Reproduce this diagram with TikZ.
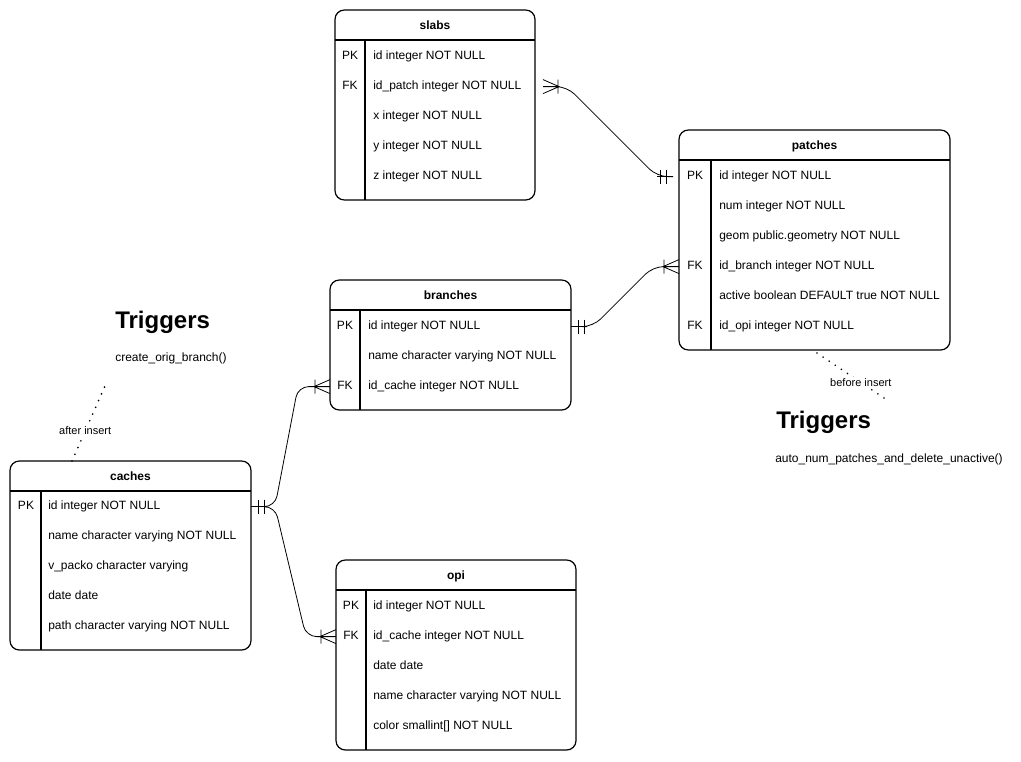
\documentclass[tikz,border=0pt]{standalone}
\usepackage{fontspec}
\setmainfont{Liberation Sans}
\usetikzlibrary{calc}
\tikzset{
  tbl/.style={draw, line width=0.9pt, rounded corners=7pt, anchor=north west, inner sep=0pt, outer sep=0pt},
  inner/.style={line width=0.8pt},
  ttl/.style={font=\fontsize{9}{11}\selectfont\bfseries, inner sep=0pt, text height=0.7em, text depth=0.2em, yshift=-1.2pt},
  keyc/.style={font=\fontsize{9}{11}\selectfont, inner sep=0pt, text height=0.7em, text depth=0.2em, yshift=-1.2pt},
  fld/.style={font=\fontsize{9}{11}\selectfont, anchor=west, inner sep=0pt, text height=0.7em, text depth=0.2em, yshift=-1.2pt},
  rel/.style={line width=0.6pt, rounded corners=8pt},
  mk/.style={line width=0.6pt},
  trig/.style={font=\fontsize{18}{20}\selectfont\bfseries, anchor=west, inner sep=0pt, yshift=-1.5pt},
  trigfn/.style={font=\fontsize{9}{11}\selectfont, anchor=west, inner sep=0pt, text height=0.7em, text depth=0.2em, yshift=-1.2pt},
  dotline/.style={line width=1.4pt, line cap=round, dash pattern=on 0pt off 5.5pt},
  lbl/.style={font=\fontsize{8.25}{10}\selectfont, fill=white, inner sep=1pt},
  many/.pic={\draw[mk] (0,-7) -- (16,0) -- (0,7) (0,0) -- (16,0) (15,-7) -- (15,7);},
  one/.pic={\draw[mk] (0,0) -- (16,0) (7,-7) -- (7,7) (13,-7) -- (13,7);},
}
\begin{document}
\begin{tikzpicture}[x=0.75pt, y=-0.75pt]
\useasboundingbox (0,0) rectangle (1021,761);
\fill[white] (0,0) rectangle (1021,761);

% ---------- slabs ----------
\node[tbl, minimum width=0.75pt*200, minimum height=0.75pt*190] (slabs) at (335,10) {};
\draw[inner] ($(slabs.north west)+(0,30)$) -- ($(slabs.north east)+(0,30)$);
\draw[inner] ($(slabs.north west)+(30,30)$) -- ($(slabs.south west)+(30,0)$);
\node[ttl] (slabs-t) at (435,25) {slabs};
\node[keyc] (slabs-k1) at (350,55) {PK};
\node[keyc] (slabs-k2) at (350,85) {FK};
\node[fld] (slabs-f1) at (373,55) {id integer NOT NULL};
\node[fld] (slabs-f2) at (373,85) {id\_patch integer NOT NULL};
\node[fld] (slabs-f3) at (373,115) {x integer NOT NULL};
\node[fld] (slabs-f4) at (373,145) {y integer NOT NULL};
\node[fld] (slabs-f5) at (373,175) {z integer NOT NULL};

% ---------- patches ----------
\node[tbl, minimum width=0.75pt*271, minimum height=0.75pt*220] (patches) at (679,130) {};
\draw[inner] ($(patches.north west)+(0,30)$) -- ($(patches.north east)+(0,30)$);
\draw[inner] ($(patches.north west)+(32,30)$) -- ($(patches.south west)+(32,0)$);
\node[ttl] (patches-t) at (814.5,145) {patches};
\node[keyc] (patches-k1) at (695,175) {PK};
\node[keyc] (patches-k4) at (695,265) {FK};
\node[keyc] (patches-k6) at (695,325) {FK};
\node[fld] (patches-f1) at (719,175) {id integer NOT NULL};
\node[fld] (patches-f2) at (719,205) {num integer NOT NULL};
\node[fld] (patches-f3) at (719,235) {geom public.geometry NOT NULL};
\node[fld] (patches-f4) at (719,265) {id\_branch integer NOT NULL};
\node[fld] (patches-f5) at (719,295) {active boolean DEFAULT true NOT NULL};
\node[fld] (patches-f6) at (719,325) {id\_opi integer NOT NULL};

% ---------- branches ----------
\node[tbl, minimum width=0.75pt*241, minimum height=0.75pt*130] (branches) at (330,280) {};
\draw[inner] ($(branches.north west)+(0,30)$) -- ($(branches.north east)+(0,30)$);
\draw[inner] ($(branches.north west)+(30,30)$) -- ($(branches.south west)+(30,0)$);
\node[ttl] (branches-t) at (450.5,295) {branches};
\node[keyc] (branches-k1) at (345,325) {PK};
\node[keyc] (branches-k3) at (345,385) {FK};
\node[fld] (branches-f1) at (368,325) {id integer NOT NULL};
\node[fld] (branches-f2) at (368,355) {name character varying NOT NULL};
\node[fld] (branches-f3) at (368,385) {id\_cache integer NOT NULL};

% ---------- caches ----------
\node[tbl, minimum width=0.75pt*241, minimum height=0.75pt*189] (caches) at (10,461) {};
\draw[inner] ($(caches.north west)+(0,30)$) -- ($(caches.north east)+(0,30)$);
\draw[inner] ($(caches.north west)+(31,30)$) -- ($(caches.south west)+(31,0)$);
\node[ttl] (caches-t) at (130.5,476) {caches};
\node[keyc] (caches-k1) at (26,505) {PK};
\node[fld] (caches-f1) at (48,505) {id integer NOT NULL};
\node[fld] (caches-f2) at (48,535) {name character varying NOT NULL};
\node[fld] (caches-f3) at (48,565) {v\_packo character varying};
\node[fld] (caches-f4) at (48,595) {date date};
\node[fld] (caches-f5) at (48,625) {path character varying NOT NULL};

% ---------- opi ----------
\node[tbl, minimum width=0.75pt*240, minimum height=0.75pt*190] (opi) at (336,560) {};
\draw[inner] ($(opi.north west)+(0,30)$) -- ($(opi.north east)+(0,30)$);
\draw[inner] ($(opi.north west)+(30,30)$) -- ($(opi.south west)+(30,0)$);
\node[ttl] (opi-t) at (456,575) {opi};
\node[keyc] (opi-k1) at (351,605) {PK};
\node[keyc] (opi-k2) at (351,635) {FK};
\node[fld] (opi-f1) at (373,605) {id integer NOT NULL};
\node[fld] (opi-f2) at (373,635) {id\_cache integer NOT NULL};
\node[fld] (opi-f3) at (373,665) {date date};
\node[fld] (opi-f4) at (373,695) {name character varying NOT NULL};
\node[fld] (opi-f5) at (373,725) {color smallint[] NOT NULL};

% ---------- triggers ----------
\node[trig] (trg1) at (115,320) {Triggers};
\node[trigfn] (trg1fn) at (115,357) {create\_orig\_branch()};
\node[trig] (trg2) at (776,420) {Triggers};
\node[trigfn] (trg2fn) at (775,458) {auto\_num\_patches\_and\_delete\_unactive()};

\coordinate (trg1end) at (105,386);
\coordinate (trg2end) at (890,402);
\draw[dotline] ($(caches.north west)+(62,0)$) -- node[lbl, pos=0.4] (lbl1) {after insert} (trg1end);
\draw[dotline] ($(patches.south west)+(138,3)$) -- node[lbl, pos=0.6] (lbl2) {before insert} (trg2end);

% ---------- relations ----------
% slabs.id_patch -> patches.id
\coordinate (c1s) at (slabs.east |- slabs-f2);
\coordinate (c1t) at (patches.west |- patches-f1);
\draw[rel] ($(c1s)+(24,0)$) -- ($(c1s)+(32,0)$) -- ($(c1t)+(-22,0)$) -- ($(c1t)+(-6,0)$);
\pic at ($(c1s)+(8,0)$) {many};
\pic[xscale=-1] at ($(c1t)+(-6,0)$) {one};

% branches.id -> patches.id_branch
\coordinate (c2s) at (branches.east |- branches-f1);
\coordinate (c2t) at (patches.west |- patches-f4);
\draw[rel] ($(c2s)+(16,0)$) -- ($(c2s)+(22,0)$) -- ($(c2t)+(-26,0)$) -- ($(c2t)+(-16,0)$);
\pic at (c2s) {one};
\pic[xscale=-1] at (c2t) {many};

% caches.id -> branches.id_cache
\coordinate (c3s) at (caches.east |- caches-f1);
\coordinate (c3t) at (branches.west |- branches-f3);
\draw[rel] ($(c3s)+(16,0)$) -- ($(c3s)+(24,0)$) -- ($(c3t)+(-32,0)$) -- ($(c3t)+(-16,0)$);
\pic at (c3s) {one};
\pic[xscale=-1] at (c3t) {many};

% caches.id -> opi.id_cache
\coordinate (c4t) at (opi.west |- opi-f2);
\draw[rel] ($(c3s)+(16,0)$) -- ($(c3s)+(24,0)$) -- ($(c4t)+(-30,0)$) -- ($(c4t)+(-16,0)$);
\pic[xscale=-1] at (c4t) {many};
\end{tikzpicture}
\end{document}
